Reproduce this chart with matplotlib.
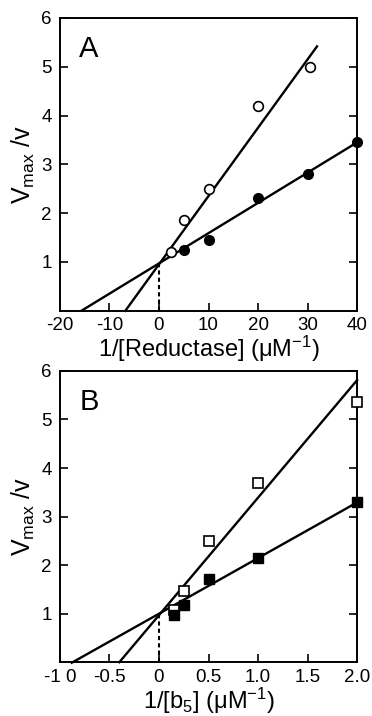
import matplotlib
matplotlib.use("Agg")
import matplotlib.pyplot as plt
import numpy as np

plt.rcParams['font.family'] = ['Liberation Sans', 'DejaVu Sans']
plt.rcParams['mathtext.fontset'] = 'custom'
plt.rcParams['mathtext.rm'] = 'Liberation Sans'
plt.rcParams['mathtext.it'] = 'Liberation Sans'
plt.rcParams['mathtext.default'] = 'regular'

# Panel A: 1/[Reductase]
a_open_x = [2.5, 5, 10, 20, 30.5]
a_open_y = [1.2, 1.85, 2.5, 4.2, 5.0]
a_fill_x = [5, 10, 20, 30, 40]
a_fill_y = [1.25, 1.45, 2.3, 2.8, 3.45]
# fitted lines: (x start, x end, slope, intercept)
a_open_fit = (-6.8, 31.9, 0.14, 0.95)
a_fill_fit = (-15.6, 40, 0.062, 0.97)

# Panel B: 1/[b5]
b_open_x = [0.15, 0.25, 0.5, 1.0, 2.0]
b_open_y = [1.08, 1.47, 2.5, 3.7, 5.35]
b_fill_x = [0.15, 0.25, 0.5, 1.0, 2.0]
b_fill_y = [0.98, 1.18, 1.72, 2.15, 3.3]
b_open_fit = (-0.40, 2.0, 2.42, 0.97)
b_fill_fit = (-0.88, 2.0, 1.146, 1.0)

a_xticks = [-20, -10, 0, 10, 20, 30, 40]
a_xlabels = ['-20', '-10', '0', '10', '20', '30', '40']
b_xticks = [-1.0, -0.5, 0, 0.5, 1.0, 1.5, 2.0]
b_xlabels = ['-1 0', '-0.5', '0', '0.5', '1.0', '1.5', '2.0']
yticks = [1, 2, 3, 4, 5, 6]

fig = plt.figure(figsize=(3.72, 7.16), dpi=100)
ax_a = fig.add_axes([0.161, 0.566, 0.799, 0.409])
ax_b = fig.add_axes([0.161, 0.075, 0.799, 0.407])


def draw_panel(ax, ox, oy, fx, fy, ofit, ffit, marker, xlim, xt, xl, xlabel, letter):
    for fit in (ofit, ffit):
        xs = np.array([fit[0], fit[1]])
        ax.plot(xs, fit[2] * xs + fit[3], color='black', lw=1.7, zorder=2,
                clip_on=False)
    ax.plot([0, 0], [0, min(ofit[3], ffit[3])], color='black', lw=1.5,
            ls=(0, (2, 1.5)), zorder=2)
    ms = 7 if marker == 'o' else 7.5
    ax.plot(ox, oy, ls='none', marker=marker, ms=ms, mfc='white',
            mec='black', mew=1.2, zorder=3, clip_on=False)
    ax.plot(fx, fy, ls='none', marker=marker, ms=ms, mfc='black',
            mec='black', zorder=3, clip_on=False)
    ax.set_xlim(xlim)
    ax.set_ylim(0, 6)
    ax.set_xticks(xt)
    ax.set_xticklabels(xl)
    ax.set_yticks(yticks)
    ax.tick_params(direction='in', length=6, width=1.2, labelsize=13.5,
                   pad=4.5)
    ax.tick_params(axis='y', right=True, pad=6)
    for s in ax.spines.values():
        s.set_linewidth(1.4)
    ax.set_xlabel(xlabel, fontsize=17, labelpad=0)
    ax.set_ylabel('V$_{max}$ /v', fontsize=18, labelpad=3)
    ax.text(0.065, 0.865, letter, transform=ax.transAxes, fontsize=21,
            va='baseline')


draw_panel(ax_a, a_open_x, a_open_y, a_fill_x, a_fill_y, a_open_fit,
           a_fill_fit, 'o', (-20, 40), a_xticks, a_xlabels,
           '1/[Reductase] (μM$^{-1}$)', 'A')
draw_panel(ax_b, b_open_x, b_open_y, b_fill_x, b_fill_y, b_open_fit,
           b_fill_fit, 's', (-1.0, 2.0), b_xticks, b_xlabels,
           '1/[b$_5$] (μM$^{-1}$)', 'B')

fig.savefig('out.png', dpi=100)
